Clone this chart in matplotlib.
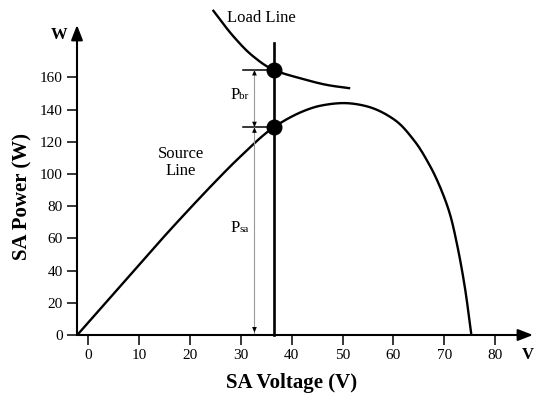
import matplotlib
matplotlib.use("Agg")
import matplotlib.pyplot as plt
import numpy as np

# ---- data ----
source_v = [-2.1, 4.0, 10.0, 15.0, 20.0, 25.0, 30.0, 36.5, 42.3, 46.0, 50.5, 55.0,
            60.0, 64.0, 67.0, 69.0, 71.0, 72.5, 74.0, 75.3]
source_w = [0.0, 21.9, 43.4, 61.3, 78.5, 95.2, 111.0, 129.0, 139.0, 142.6, 144.0, 141.8,
            134.1, 121.0, 106.0, 93.0, 76.0, 56.0, 30.0, 0.0]

load_v = [24.5, 28.6, 32.5, 36.5, 41.7, 46.9, 51.5]
load_w = [201.9, 185.3, 172.9, 164.6, 159.4, 155.3, 153.2]

op_v = 36.5          # operating voltage (vertical line)
op_top = 181.4
p_load = 164.6       # load power point
p_source = 129.0     # source power point
arrow_v = 32.7
tick_left_v = 30.4

xticks = [0, 10, 20, 30, 40, 50, 60, 70, 80]
yticks = [0, 20, 40, 60, 80, 100, 120, 140, 160]

plt.rcParams['font.family'] = ['Liberation Serif', 'DejaVu Serif']


def smooth(xs, ys, n=30):
    """Centripetal Catmull-Rom curve through the given points (display only)."""
    p = np.column_stack([xs, ys]).astype(float)
    p = np.vstack([2 * p[0] - p[1], p, 2 * p[-1] - p[-2]])
    out = []
    for i in range(1, len(p) - 2):
        p0, p1, p2, p3 = p[i - 1], p[i], p[i + 1], p[i + 2]
        def tj(ti, a, b):
            return ti + np.linalg.norm(b - a) ** 0.5
        t0 = 0.0
        t1 = tj(t0, p0, p1)
        t2 = tj(t1, p1, p2)
        t3 = tj(t2, p2, p3)
        t = np.linspace(t1, t2, n)[:, None]
        a1 = (t1 - t) / (t1 - t0) * p0 + (t - t0) / (t1 - t0) * p1
        a2 = (t2 - t) / (t2 - t1) * p1 + (t - t1) / (t2 - t1) * p2
        a3 = (t3 - t) / (t3 - t2) * p2 + (t - t2) / (t3 - t2) * p3
        b1 = (t2 - t) / (t2 - t0) * a1 + (t - t0) / (t2 - t0) * a2
        b2 = (t3 - t) / (t3 - t1) * a2 + (t - t1) / (t3 - t1) * a3
        c = (t2 - t) / (t2 - t1) * b1 + (t - t1) / (t2 - t1) * b2
        out.append(c if i == 1 else c[1:])
    c = np.vstack(out)
    return c[:, 0], c[:, 1]


fig = plt.figure(figsize=(5.39, 3.98), dpi=100)
W, H = 539, 398
ax = fig.add_axes([77 / W, (H - 335) / H, 456 / W, 310 / H])
ax.set_xlim(-2.15, 87.4)
ax.set_ylim(0, 192.5)

for s in ax.spines.values():
    s.set_visible(False)

# axes with arrows
ax.annotate('', xy=(1, 0), xytext=(0, 0), xycoords='axes fraction',
            arrowprops=dict(arrowstyle='-|>,head_length=0.9,head_width=0.35',
                            color='black', lw=1.5, shrinkA=0, shrinkB=0))
ax.annotate('', xy=(0, 1), xytext=(0, 0), xycoords='axes fraction',
            arrowprops=dict(arrowstyle='-|>,head_length=0.9,head_width=0.35',
                            color='black', lw=1.5, shrinkA=0, shrinkB=0))

ax.set_xticks(xticks)
ax.set_yticks(yticks)
ax.tick_params(direction='out', length=7.2, width=1.1, pad=3, labelsize=11)

# curves
sx, sy = smooth(source_v, source_w)
ax.plot(sx, np.clip(sy, 0, None), color='black', lw=1.7, clip_on=False, solid_capstyle='butt')
lx, ly = smooth(load_v, load_w)
ax.plot(lx, ly, color='black', lw=1.7, clip_on=False, solid_capstyle='butt')
ax.plot([op_v, op_v], [0, op_top], color='black', lw=1.9, clip_on=False)
ax.plot([op_v, op_v], [p_load, p_source], 'o', color='black', ms=10.5, zorder=5, clip_on=False)

# dimension lines
ax.plot([tick_left_v, op_v], [p_load, p_load], color='black', lw=1.1)
ax.plot([tick_left_v, op_v], [p_source, p_source], color='black', lw=1.1)
ax.plot([arrow_v, arrow_v], [1.5, p_load], color='#999999', lw=0.8)


def head(y_tip, direction):
    ax.annotate('', xy=(arrow_v, y_tip), xytext=(arrow_v, y_tip - direction * 3),
                arrowprops=dict(arrowstyle='-|>,head_length=0.4,head_width=0.17',
                                color='black', lw=0, shrinkA=0, shrinkB=0))


head(p_load, 1)
head(p_source, -1)
head(p_source, 1)
head(1.5, -1)

# texts
ax.text(34.0, 196.9, 'Load Line', ha='center', va='center', fontsize=12, clip_on=False)
ax.text(18.3, 107.0, 'Source\nLine', ha='center', va='center', fontsize=12, linespacing=1.1)
ax.text(27.95, 146.4, 'P', ha='left', va='baseline', fontsize=12)
ax.text(29.75, 146.4, 'br', ha='left', va='baseline', fontsize=8)
ax.text(27.95, 64.2, 'P', ha='left', va='baseline', fontsize=12)
ax.text(29.75, 64.2, 'sa', ha='left', va='baseline', fontsize=8)

fig.text(59 / W, 1 - 35 / H, 'W', ha='center', va='center', fontsize=12, fontweight='bold')
fig.text(527.5 / W, 1 - 355 / H, 'V', ha='center', va='center', fontsize=12, fontweight='bold')
fig.text(292 / W, 1 - 383 / H, 'SA Voltage (V)', ha='center', va='center', fontsize=15, fontweight='bold')
fig.text(22 / W, 1 - 197 / H, 'SA Power (W)', ha='center', va='center', fontsize=15,
         fontweight='bold', rotation=90)

fig.savefig('out.png', dpi=100)
